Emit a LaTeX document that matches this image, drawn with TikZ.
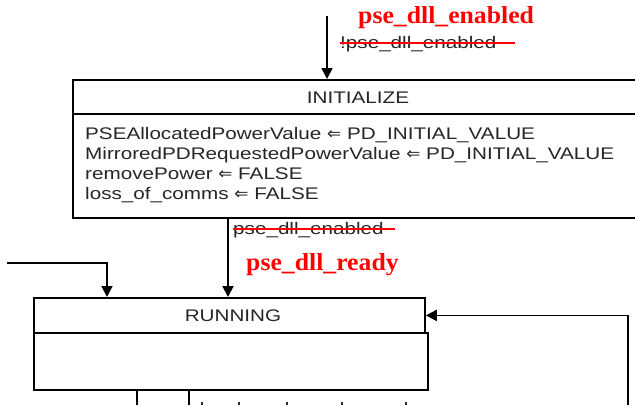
\documentclass[tikz,border=0pt]{standalone}
\usepackage{fontspec}
\usetikzlibrary{arrows.meta,calc}
\newfontfamily\boxfont[FakeStretch=1.23]{Liberation Sans}
\newfontfamily\arrowfont{DejaVu Sans}
\newfontfamily\redfont[FakeStretch=1.05]{Liberation Serif}
\definecolor{inkgray}{HTML}{262626}
\newcommand{\assign}{{\arrowfont ⇐}}
\tikzset{
  state/.style={draw=black, line width=1.8pt, inner sep=0pt, anchor=north west},
  flow/.style={draw=black, line width=1.8pt, -{Triangle[width=11pt,length=11pt]}},
  lbl/.style={inner sep=0pt, text=inkgray, font=\boxfont\fontsize{16.8}{20}\selectfont},
  guard/.style={inner sep=0pt, text=red, font=\redfont\bfseries\fontsize{24.5}{28}\selectfont},
  strike/.style={draw=red, line width=1.3pt},
  wire/.style={draw=black, line width=1.8pt},
}
\begin{document}
\begin{tikzpicture}[x=1pt,y=-1pt]
\clip (0,0) rectangle (635,405);
\fill[white] (0,0) rectangle (635,405);

% INITIALIZE state: header and action compartment
\node[state, minimum width=573pt, minimum height=34pt] (init) at (72,79) {};
\node[state, minimum width=573pt, minimum height=104pt] (initbody) at (72,113) {};
\node[lbl] (inittitle) at (358,98) {INITIALIZE};
\node[lbl, anchor=base west] (a1) at (85,139) {PSEAllocatedPowerValue \assign{} PD\_INITIAL\_VALUE};
\node[lbl, anchor=base west] (a2) at (85,159) {MirroredPDRequestedPowerValue \assign{} PD\_INITIAL\_VALUE};
\node[lbl, anchor=base west] (a3) at (85,179) {removePower \assign{} FALSE};
\node[lbl, anchor=base west] (a4) at (85,199) {loss\_of\_comms \assign{} FALSE};

% RUNNING state
\node[state, minimum width=391pt, minimum height=35pt] (run) at (33,297) {};
\node[state, minimum width=394pt, minimum height=57pt] (runbody) at (33,332) {};
\node[lbl] (runtitle) at (233,316) {RUNNING};

% entry into INITIALIZE
\coordinate (entry) at (327,16);
\draw[flow] (entry) -- (entry |- init.north);
\node[guard, anchor=west] (g1) at (358,18) {pse\_dll\_enabled};
\node[lbl, anchor=west] (g1old) at (340,44) {!pse\_dll\_enabled};
\draw[strike] (g1old.west |- 0,43) -- (515,43);

% INITIALIZE -> RUNNING
\draw[flow] (initbody.south -| 228,0) -- (run.north -| 228,0);
\node[lbl, anchor=west] (g2old) at (233,230) {pse\_dll\_enabled};
\draw[strike] (g2old.west |- 0,229) -- (395,229);
\node[guard, anchor=west] (g2) at (246,265) {pse\_dll\_ready};

% transition entering from the left
\coordinate (leftin) at (7,263);
\draw[flow] (leftin) -| (run.north -| 107,0);

% transition returning from the right
\coordinate (rightin) at (628,405);
\draw[flow] (rightin) |- (run.east);

% transitions leaving RUNNING downwards
\coordinate (out1) at (137,405);
\coordinate (out2) at (189,405);
\draw[wire] (runbody.south -| out1) -- (out1);
\draw[wire] (runbody.south -| out2) -- (out2);

% tops of the next guard text, cut at the lower edge
\foreach \tx in {202,239,287,342,406}
  \draw[inkgray, line width=1.4pt] (\tx,401.5) -- (\tx,405);
\end{tikzpicture}
\end{document}
